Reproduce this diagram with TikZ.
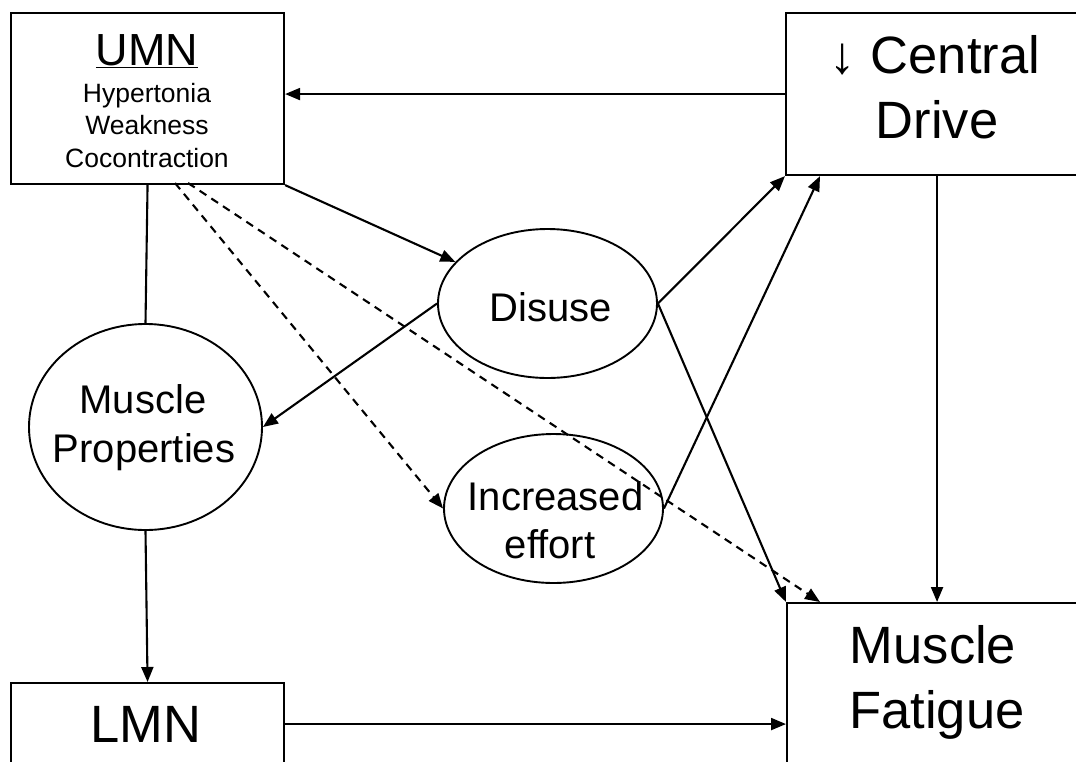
\documentclass[tikz,border=0pt]{standalone}
\usepackage{fontspec}
\setmainfont{Liberation Sans}
\usetikzlibrary{arrows.meta,shapes.geometric,calc}
\begin{document}
\begin{tikzpicture}[x=1pt,y=-1pt,
  conn/.style={line width=2.1pt,-{Triangle[length=15pt,width=12pt]}},
  plain/.style={line width=2.1pt},
  dsh/.style={conn,dash pattern=on 8pt off 6pt},
  box/.style={draw,line width=2.1pt,rectangle,inner sep=0pt,anchor=north west},
  oval/.style={draw,line width=1.9pt,ellipse,inner sep=0pt},
  big/.style={font=\fontsize{52.5}{63}\selectfont,inner sep=0pt,anchor=base},
  mid/.style={font=\fontsize{40}{48}\selectfont,inner sep=0pt,anchor=base},
  small/.style={font=\fontsize{26.5}{32}\selectfont,inner sep=0pt,anchor=base}]
\useasboundingbox (0,0) rectangle (1076,761);
\clip (0,0) rectangle (1076,761);

% boxes
\node[box,minimum width=273pt,minimum height=171pt] (umn) at (10,12) {};
\node[box,minimum width=302pt,minimum height=162pt] (cd) at (785,12) {};
\node[box,minimum width=273pt,minimum height=82pt] (lmn) at (10,682) {};
\node[box,minimum width=300pt,minimum height=170pt] (mf) at (786,602) {};

% ellipses
\node[oval,minimum width=233pt,minimum height=206pt] (mp) at (145.5,427) {};
\node[oval,minimum width=219pt,minimum height=149pt] (dis) at (547.5,303.5) {};
\node[oval,minimum width=219pt,minimum height=149pt] (ie) at (553.5,508.5) {};

% texts
\node[font=\fontsize{45}{54}\selectfont,inner sep=0pt,anchor=base] (tumn) at (147,65) {\underline{UMN}};
\node[small] (thyp) at (147,102) {Hypertonia};
\node[small] (tweak) at (147,134) {Weakness};
\node[small] (tcoc) at (147,167) {Cocontraction};

\node[big] (tcen) at (935,73) {↓ Central};
\node[big] (tdrv) at (937,138) {Drive};

\node[big] (tlmn) at (146,742) {LMN};

\node[big] (tmus) at (933,663) {Muscle};
\node[big] (tfat) at (937,728) {Fatigue};

\node[mid] (tmp1) at (143,413) {Muscle};
\node[mid] (tmp2) at (144,462) {Properties};
\node[mid] (tdis) at (550.5,321) {Disuse};
\node[mid] (tie1) at (555.5,510) {Increased};
\node[mid] (tie2) at (550,558) {effort};

% connector end points
\coordinate (ua) at (175,183);
\coordinate (ub) at (188,183);
\coordinate (cdb) at ($(cd.south west)+(35,0)$);
\coordinate (mft) at ($(mf.north west)+(34,0)$);

% connectors
\draw[conn] (cd.west) -- (umn.east |- cd.west);
\draw[plain] (umn.south) -- (mp.north);
\draw[conn] (mp.south) -- (lmn.north);
\draw[conn] (umn.south east) -- (dis);
\draw[conn] (dis.west) -- (mp.east);
\draw[dsh] (ua) -- (ie.west);
\draw[dsh] (ub) -- (mft);
\draw[conn] (dis.east) -- (cd.south west);
\draw[conn] (ie.east) -- (cdb);
\draw[conn] (dis.east) -- (mf.north west);
\draw[conn] (cd.south) -- (mf.north);
\draw[conn] (lmn.east) -- (mf.west |- lmn.east);
\end{tikzpicture}
\end{document}
